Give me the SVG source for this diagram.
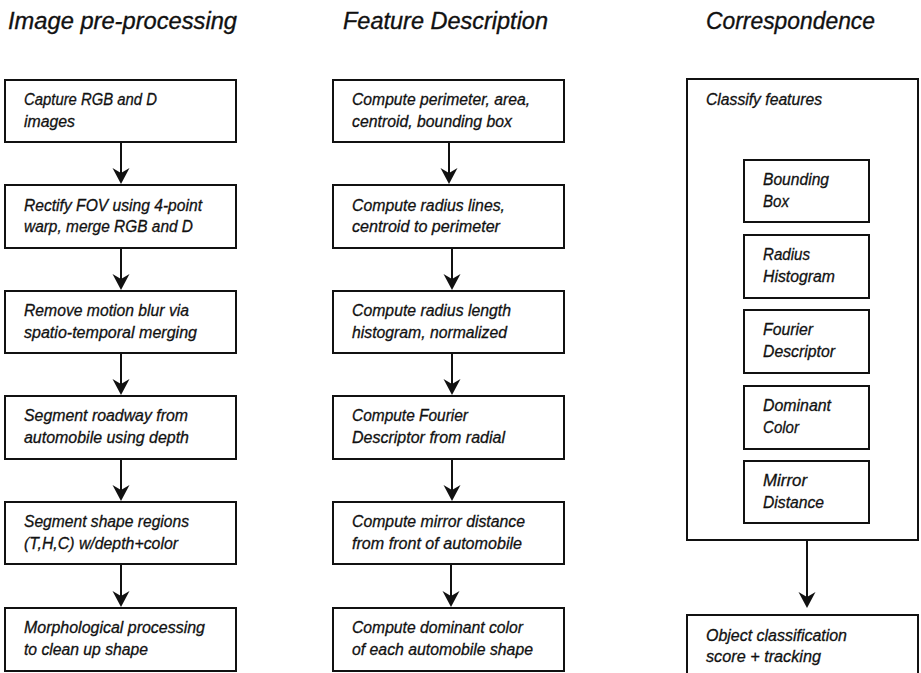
<svg xmlns="http://www.w3.org/2000/svg" width="921" height="673" viewBox="0 0 921 673">
<defs>
<style>
.bx{fill:#fff;stroke:#111;stroke-width:2}
.t{font-family:"Liberation Sans",Arial,sans-serif;font-style:italic;font-size:16.8px;fill:#111;stroke:#111;stroke-width:0.3}
.h{font-family:"Liberation Sans",Arial,sans-serif;font-style:italic;font-size:24.5px;fill:#111;stroke:#111;stroke-width:0.35}
.c{stroke:#111;stroke-width:2;fill:none;marker-end:url(#ah)}
</style>
<marker id="ah" markerUnits="userSpaceOnUse" markerWidth="17" markerHeight="18" refX="10" refY="8.5" orient="auto" viewBox="0 0 17 17">
<path d="M0,0 L16,8.5 L0,17 L5,8.5 Z" fill="#111"/>
</marker>
</defs>
<rect width="921" height="673" fill="#fff"/>

<g id="titles">
<text class="h" x="8" y="29" textLength="229" lengthAdjust="spacingAndGlyphs">Image pre-processing</text>
<text class="h" x="343" y="29" textLength="205" lengthAdjust="spacingAndGlyphs">Feature Description</text>
<text class="h" x="706" y="29" textLength="169" lengthAdjust="spacingAndGlyphs">Correspondence</text>
</g>

<g id="connectors">
<line class="c" x1="121" y1="143" x2="121" y2="178"/>
<line class="c" x1="121" y1="249" x2="121" y2="284"/>
<line class="c" x1="121" y1="354" x2="121" y2="389"/>
<line class="c" x1="121" y1="460" x2="121" y2="495"/>
<line class="c" x1="121" y1="565" x2="121" y2="601"/>
<line class="c" x1="449" y1="143" x2="449" y2="178"/>
<line class="c" x1="452" y1="249" x2="452" y2="284"/>
<line class="c" x1="452" y1="354" x2="452" y2="389"/>
<line class="c" x1="452" y1="460" x2="452" y2="495"/>
<line class="c" x1="451" y1="565" x2="451" y2="601"/>
<line class="c" x1="807" y1="541" x2="807" y2="602"/>
</g>

<g id="p1"><rect class="bx" x="5" y="80" width="231" height="62"/>
<text class="t" x="24" y="105" textLength="133" lengthAdjust="spacingAndGlyphs">Capture RGB and D</text>
<text class="t" x="24" y="126.5" textLength="51" lengthAdjust="spacingAndGlyphs">images</text></g>
<g id="p2"><rect class="bx" x="5" y="185" width="231" height="63"/>
<text class="t" x="24" y="210.5" textLength="178" lengthAdjust="spacingAndGlyphs">Rectify FOV using 4-point</text>
<text class="t" x="24" y="232" textLength="169" lengthAdjust="spacingAndGlyphs">warp, merge RGB and D</text></g>
<g id="p3"><rect class="bx" x="5" y="291" width="231" height="62"/>
<text class="t" x="24" y="316" textLength="165" lengthAdjust="spacingAndGlyphs">Remove motion blur via</text>
<text class="t" x="24" y="337.5" textLength="173" lengthAdjust="spacingAndGlyphs">spatio-temporal merging</text></g>
<g id="p4"><rect class="bx" x="5" y="396" width="231" height="63"/>
<text class="t" x="24" y="421" textLength="164" lengthAdjust="spacingAndGlyphs">Segment roadway from</text>
<text class="t" x="24" y="442.5" textLength="165" lengthAdjust="spacingAndGlyphs">automobile using depth</text></g>
<g id="p5"><rect class="bx" x="5" y="502" width="231" height="62"/>
<text class="t" x="24" y="527" textLength="165" lengthAdjust="spacingAndGlyphs">Segment shape regions</text>
<text class="t" x="24" y="548.5" textLength="154" lengthAdjust="spacingAndGlyphs">(T,H,C) w/depth+color</text></g>
<g id="p6"><rect class="bx" x="5" y="608" width="231" height="63"/>
<text class="t" x="24" y="633" textLength="181" lengthAdjust="spacingAndGlyphs">Morphological processing</text>
<text class="t" x="24" y="654.5" textLength="124" lengthAdjust="spacingAndGlyphs">to clean up shape</text></g>

<g id="f1"><rect class="bx" x="333" y="80" width="231" height="62"/>
<text class="t" x="352" y="105" textLength="178" lengthAdjust="spacingAndGlyphs">Compute perimeter, area,</text>
<text class="t" x="352" y="126.5" textLength="160" lengthAdjust="spacingAndGlyphs">centroid, bounding box</text></g>
<g id="f2"><rect class="bx" x="333" y="185" width="231" height="63"/>
<text class="t" x="352" y="210.5" textLength="153" lengthAdjust="spacingAndGlyphs">Compute radius lines,</text>
<text class="t" x="352" y="232" textLength="148" lengthAdjust="spacingAndGlyphs">centroid to perimeter</text></g>
<g id="f3"><rect class="bx" x="333" y="291" width="231" height="62"/>
<text class="t" x="352" y="316" textLength="159" lengthAdjust="spacingAndGlyphs">Compute radius length</text>
<text class="t" x="352" y="337.5" textLength="155" lengthAdjust="spacingAndGlyphs">histogram, normalized</text></g>
<g id="f4"><rect class="bx" x="333" y="396" width="231" height="63"/>
<text class="t" x="352" y="421" textLength="116" lengthAdjust="spacingAndGlyphs">Compute Fourier</text>
<text class="t" x="352" y="442.5" textLength="153" lengthAdjust="spacingAndGlyphs">Descriptor from radial</text></g>
<g id="f5"><rect class="bx" x="333" y="502" width="231" height="62"/>
<text class="t" x="352" y="527" textLength="173" lengthAdjust="spacingAndGlyphs">Compute mirror distance</text>
<text class="t" x="352" y="548.5" textLength="170" lengthAdjust="spacingAndGlyphs">from front of automobile</text></g>
<g id="f6"><rect class="bx" x="333" y="608" width="231" height="63"/>
<text class="t" x="352" y="633" textLength="171" lengthAdjust="spacingAndGlyphs">Compute dominant color</text>
<text class="t" x="352" y="654.5" textLength="181" lengthAdjust="spacingAndGlyphs">of each automobile shape</text></g>

<g id="classify"><rect class="bx" x="687" y="79" width="231" height="461" stroke-width="2.4"/>
<text class="t" x="706" y="105" textLength="116" lengthAdjust="spacingAndGlyphs">Classify features</text></g>
<g id="c1"><rect class="bx" x="744" y="160" width="125" height="62"/>
<text class="t" x="763" y="185" textLength="66" lengthAdjust="spacingAndGlyphs">Bounding</text>
<text class="t" x="763" y="207" textLength="26" lengthAdjust="spacingAndGlyphs">Box</text></g>
<g id="c2"><rect class="bx" x="744" y="235" width="125" height="63"/>
<text class="t" x="763" y="260" textLength="47" lengthAdjust="spacingAndGlyphs">Radius</text>
<text class="t" x="763" y="282" textLength="72" lengthAdjust="spacingAndGlyphs">Histogram</text></g>
<g id="c3"><rect class="bx" x="744" y="310" width="125" height="63"/>
<text class="t" x="763" y="335" textLength="50" lengthAdjust="spacingAndGlyphs">Fourier</text>
<text class="t" x="763" y="357" textLength="72" lengthAdjust="spacingAndGlyphs">Descriptor</text></g>
<g id="c4"><rect class="bx" x="744" y="386" width="125" height="63"/>
<text class="t" x="763" y="411" textLength="68" lengthAdjust="spacingAndGlyphs">Dominant</text>
<text class="t" x="763" y="433" textLength="36" lengthAdjust="spacingAndGlyphs">Color</text></g>
<g id="c5"><rect class="bx" x="744" y="461" width="125" height="62"/>
<text class="t" x="763" y="486" textLength="44" lengthAdjust="spacingAndGlyphs">Mirror</text>
<text class="t" x="763" y="508" textLength="61" lengthAdjust="spacingAndGlyphs">Distance</text></g>

<g id="score"><rect class="bx" x="687" y="615" width="231" height="80" stroke-width="2.4"/>
<text class="t" x="706" y="641" textLength="141" lengthAdjust="spacingAndGlyphs">Object classification</text>
<text class="t" x="706" y="662" textLength="115" lengthAdjust="spacingAndGlyphs">score + tracking</text></g>
</svg>
